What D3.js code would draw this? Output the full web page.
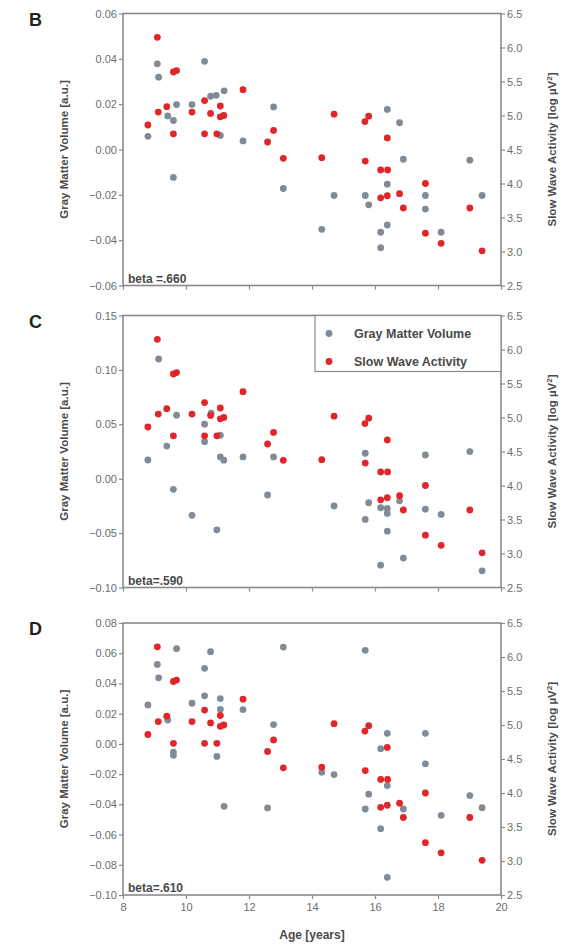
<!DOCTYPE html>
<html>
<head>
<meta charset="utf-8">
<script src="https://d3js.org/d3.v7.min.js"></script>
<style>
  body { margin: 0; background: #fff; }
  svg text { font-family: Arial, "Liberation Sans", sans-serif; }
</style>
</head>
<body>
<svg id="chart" width="568" height="945"></svg>
<script>
// slow wave activity (same in every panel, right axis)
const swaAge = [9.09, 9.60, 9.70, 11.81, 9.39, 9.12, 8.79, 9.60, 10.19, 10.59, 10.78, 11.09, 11.09, 11.20, 10.59, 10.98, 12.59, 12.78, 13.09, 14.31,
  14.70, 15.68, 15.80, 16.39, 15.69, 16.18, 16.40, 16.18, 16.39, 16.78, 16.90, 17.60, 17.60, 18.10, 19.01, 19.40];
const swaValue = [6.15, 5.64, 5.66, 5.38, 5.13, 5.05, 4.86, 4.73, 5.05, 5.22, 5.03, 5.14, 4.98, 5.00, 4.73, 4.73, 4.61, 4.78, 4.37, 4.38,
  5.02, 4.91, 4.99, 4.67, 4.33, 4.20, 4.20, 3.79, 3.82, 3.85, 3.64, 4.00, 3.27, 3.12, 3.64, 3.01];

// gray matter volume, panel B
const gmvBAge = [9.09, 9.13, 10.59, 9.70, 10.19, 10.78, 10.96, 11.21, 9.42, 9.60, 8.79, 11.09, 9.60, 11.81, 12.78, 13.09,
  14.31, 14.70, 15.69, 15.80, 16.39, 16.78, 16.90, 16.39, 16.39, 16.18, 16.18, 17.60, 17.60, 18.10, 19.01, 19.40];
const gmvBValue = [0.0378, 0.0319, 0.0389, 0.0198, 0.0198, 0.0235, 0.0239, 0.0259, 0.0148, 0.0128, 0.0058, 0.0062, -0.0123, 0.0038, 0.0188, -0.0172,
  -0.0352, -0.0203, -0.0203, -0.0244, 0.0177, 0.0118, -0.0043, -0.0153, -0.0333, -0.0365, -0.0433, -0.0203, -0.0263, -0.0365, -0.0047, -0.0203];

// panel C
const gmvCAge = [9.13, 9.70, 10.59, 10.80, 10.59, 11.09, 9.39, 8.79, 11.09, 11.20, 11.81, 12.78, 9.60, 12.59, 10.19, 10.98,
  14.70, 15.69, 15.80, 15.69, 16.18, 16.39, 16.39, 16.39, 16.18, 16.78, 16.90, 17.60, 17.60, 18.10, 19.01, 19.40];
const gmvCValue = [0.110, 0.0584, 0.0501, 0.0602, 0.034, 0.040, 0.030, 0.0172, 0.020, 0.017, 0.020, 0.020, -0.0098, -0.015, -0.0337, -0.047,
  -0.0251, 0.0234, -0.0221, -0.0374, -0.0267, -0.0273, -0.0319, -0.0482, -0.0795, -0.0203, -0.073, 0.0218, -0.028, -0.0328, 0.0249, -0.0847];

// panel D
const gmvDAge = [9.70, 10.78, 9.09, 9.13, 10.59, 8.79, 10.19, 10.59, 11.09, 11.09, 11.81, 9.42, 9.60, 9.60, 10.98, 12.78, 11.21, 12.59, 13.09,
  15.69, 14.31, 14.70, 15.69, 15.80, 16.18, 16.39, 16.39, 16.18, 16.39, 16.90, 17.60, 17.60, 18.10, 19.01, 19.40];
const gmvDValue = [0.063, 0.061, 0.0526, 0.0437, 0.050, 0.0258, 0.0269, 0.0318, 0.030, 0.0229, 0.0227, 0.0158, -0.0054, -0.0076, -0.0083, 0.0128, -0.0413, -0.0424, 0.0641,
  0.0619, -0.0187, -0.0203, -0.0431, -0.0333, -0.0032, 0.0070, -0.0276, -0.0561, -0.0883, -0.0431, 0.0070, -0.0132, -0.0473, -0.0342, -0.0422];

const ageTicks = [8, 10, 12, 14, 16, 18, 20];
const swaTicks = [2.5, 3.0, 3.5, 4.0, 4.5, 5.0, 5.5, 6.0, 6.5];
const gmvBTicks = [-0.06, -0.04, -0.02, 0.00, 0.02, 0.04, 0.06];
const gmvCTicks = [-0.10, -0.05, 0.00, 0.05, 0.10, 0.15];
const gmvDTicks = [-0.10, -0.08, -0.06, -0.04, -0.02, 0.00, 0.02, 0.04, 0.06, 0.08];

const panels = [
  { letter: "B", age: gmvBAge, gmv: gmvBValue, ticks: gmvBTicks, top: 13.5, beta: "beta =.660" },
  { letter: "C", age: gmvCAge, gmv: gmvCValue, ticks: gmvCTicks, top: 315.5, beta: "beta=.590", legend: true },
  { letter: "D", age: gmvDAge, gmv: gmvDValue, ticks: gmvDTicks, top: 623, beta: "beta=.610", xLabels: true }
];

const plotH = 272;
const gray = "#808b95", red = "#e0262a", axisCol = "#8a8a8a", labCol = "#6e6e6e", titleCol = "#4a4a4a";
const svg = d3.select("#chart");
const x = d3.scaleLinear().domain([8, 20]).range([123, 501]);

function styleAxis(g) {
  g.select(".domain").remove();
  g.selectAll(".tick line").attr("stroke", axisCol).attr("stroke-width", 1.2);
  g.selectAll(".tick text").attr("fill", labCol).style("font-size", "11px").style("font-family", "Arial, 'Liberation Sans', sans-serif");
}

panels.forEach(p => {
  const y0 = p.top, y1 = p.top + plotH;
  const yL = d3.scaleLinear().domain([p.ticks[0], p.ticks[p.ticks.length - 1]]).range([y1, y0]);
  const yR = d3.scaleLinear().domain([2.5, 6.5]).range([y1, y0]);
  const g = svg.append("g");

  g.append("text").attr("x", 29).attr("y", y0 + 12)
    .attr("font-size", "18px").attr("font-weight", "bold").attr("fill", "#222").text(p.letter);

  g.append("g").attr("transform", `translate(${x.range()[0]},0)`)
    .call(d3.axisLeft(yL).tickValues(p.ticks).tickSize(4).tickPadding(2).tickFormat(d3.format(".2f")))
    .call(styleAxis);

  g.append("g").attr("transform", `translate(${x.range()[1]},0)`)
    .call(d3.axisRight(yR).tickValues(swaTicks).tickSize(4).tickPadding(2).tickFormat(d3.format(".1f")))
    .call(styleAxis);

  g.append("g").attr("transform", `translate(0,${y1})`)
    .call(d3.axisBottom(x).tickValues(ageTicks).tickSize(4).tickPadding(4)
      .tickFormat(p.xLabels ? d3.format("d") : ""))
    .call(styleAxis);

  g.append("rect").attr("x", x.range()[0]).attr("y", y0).attr("width", x.range()[1] - x.range()[0]).attr("height", plotH)
    .attr("fill", "none").attr("stroke", axisCol).attr("stroke-width", 1.6);

  g.append("text").attr("transform", `translate(68,${(y0 + y1) / 2}) rotate(-90)`)
    .attr("text-anchor", "middle").attr("font-size", "11.5px").attr("font-weight", "bold").attr("fill", titleCol)
    .text("Gray Matter Volume [a.u.]");

  const rt = g.append("text").attr("transform", `translate(556,${(y0 + y1) / 2}) rotate(-90)`)
    .attr("text-anchor", "middle").attr("font-size", "11.5px").attr("font-weight", "bold").attr("fill", titleCol);
  rt.append("tspan").text("Slow Wave Activity [log µV");
  rt.append("tspan").attr("font-size", "8px").attr("dy", "-4").text("2");
  rt.append("tspan").attr("dy", "4").text("]");

  g.append("text").attr("x", 128).attr("y", y1 - 3)
    .attr("font-size", "12px").attr("font-weight", "bold").attr("fill", titleCol).text(p.beta);

  const gd = p.age.map((a, i) => [a, p.gmv[i]]);
  g.selectAll("circle.gmv").data(gd).join("circle").attr("class", "gmv")
    .attr("cx", d => x(d[0])).attr("cy", d => yL(d[1])).attr("r", 3.4).attr("fill", gray);

  const sd = swaAge.map((a, i) => [a, swaValue[i]]);
  g.selectAll("circle.swa").data(sd).join("circle").attr("class", "swa")
    .attr("cx", d => x(d[0])).attr("cy", d => yR(d[1])).attr("r", 3.4).attr("fill", red);

  if (p.legend) {
    const lg = g.append("g");
    lg.append("rect").attr("x", 315).attr("y", y0).attr("width", 501 - 315).attr("height", 56)
      .attr("fill", "#fff").attr("stroke", axisCol).attr("stroke-width", 1.2);
    [["Gray Matter Volume", gray], ["Slow Wave Activity", red]].forEach((it, i) => {
      const cy = y0 + 18 + i * 28;
      lg.append("circle").attr("cx", 329).attr("cy", cy).attr("r", 3.4).attr("fill", it[1]);
      lg.append("text").attr("x", 354).attr("y", cy + 4.5).attr("font-size", "12.5px").attr("font-weight", "bold")
        .attr("fill", titleCol).text(it[0]);
    });
  }

  if (p.xLabels) {
    g.append("text").attr("x", 312).attr("y", y1 + 44).attr("text-anchor", "middle")
      .attr("font-size", "12px").attr("font-weight", "bold").attr("fill", titleCol).text("Age [years]");
  }
});
</script>
</body>
</html>
